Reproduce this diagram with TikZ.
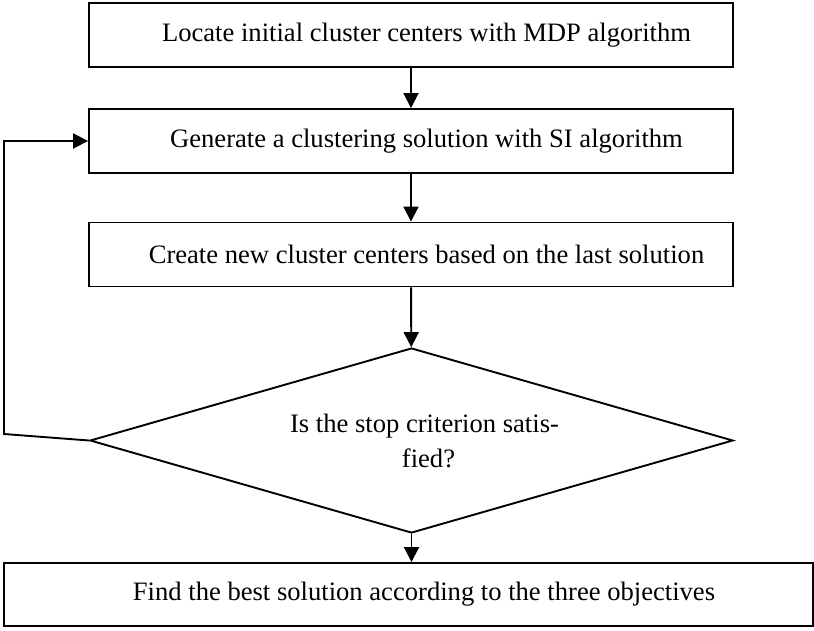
\documentclass[tikz,border=0pt]{standalone}
\usepackage{fontspec}
\setmainfont{Liberation Serif}
\usetikzlibrary{shapes.geometric, arrows.meta}

\begin{document}
\begin{tikzpicture}[x=1pt, y=-1pt,
        every node/.style={font=\fontsize{26.6}{35}\selectfont},
        box/.style={draw, line width=1.9pt, minimum width=644pt, minimum height=64pt, inner sep=0pt, execute at begin node=\hspace*{31pt}},
        decision/.style={draw, diamond, aspect=3.48, line width=1.9pt, minimum width=643pt, minimum height=185pt, inner sep=0pt, align=center},
        flow/.style={line width=1.9pt, -{Triangle[length=15pt, width=15pt]}}]
        \useasboundingbox (0,0) rectangle (814,630);

        \node[box] (locate) at (411,35) {Locate initial cluster centers with MDP algorithm};
        \node[box] (generate) at (411,141) {Generate a clustering solution with SI algorithm};
        \node[box] (create) at (411,254.5) {Create new cluster centers based on the last solution};

        \node[decision] (stop) at (411.5,440.5) {\hspace*{26pt}Is the stop criterion satis-\\\hspace*{34pt}fied?};

        \node[box, minimum width=809pt, minimum height=63pt] (best) at (408.5,594.5) {Find the best solution according to the three objectives};

        \coordinate (back) at (4,434);

        \draw[flow] (locate) -- (generate);
        \draw[flow] (generate) -- (create);
        \draw[flow] (create) -- (stop);
        \draw[flow] (stop.south) -- (stop.south |- best.north);
        \draw[flow] (stop.west) -- (back) |- (generate.west);
\end{tikzpicture}
\end{document}
